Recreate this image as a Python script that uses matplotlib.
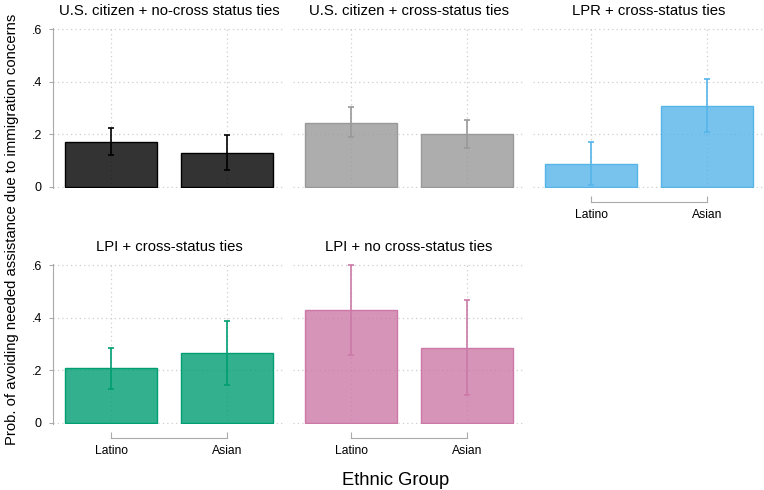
import matplotlib
matplotlib.use('Agg')
import numpy as np
from matplotlib import pyplot as plt
from matplotlib.colors import to_rgba

plt.rcParams['font.family'] = ['Liberation Sans', 'DejaVu Sans']

# DATA
groups = ['Latino', 'Asian']
titles = ['U.S. citizen + no-cross status ties',
          'U.S. citizen + cross-status ties',
          'LPR + cross-status ties',
          'LPI + cross-status ties',
          'LPI + no cross-status ties']
est = [[0.172, 0.130],
       [0.245, 0.200],
       [0.088, 0.309],
       [0.208, 0.266],
       [0.429, 0.284]]
ci_lo = [[0.121, 0.066],
         [0.192, 0.149],
         [0.009, 0.211],
         [0.131, 0.146],
         [0.257, 0.105]]
ci_hi = [[0.226, 0.197],
         [0.303, 0.253],
         [0.170, 0.411],
         [0.287, 0.389],
         [0.603, 0.467]]
colors = ['#000000', '#999999', '#56B4E9', '#009E73', '#CC79A7']
yticks = [0, 0.2, 0.4, 0.6]
ytick_labels = ['0', '.2', '.4', '.6']

W, H = 764, 490
AXIS_GREY = '#aaaaaa'

fig = plt.figure(figsize=(W / 100, H / 100), dpi=100)

# pixel layout of the panels
col_left = [53, 293, 533]
panel_w = 232
row_bottom = [188, 424]
panel_h = 160
# panels that show the x axis (bottom panel of each column)
show_x = [False, False, True, True, True]

x = np.arange(1, len(groups) + 1)

for i, title in enumerate(titles):
    row, col = i // 3, i % 3
    ax = fig.add_axes([col_left[col] / W, 1 - row_bottom[row] / H,
                       panel_w / W, panel_h / H])
    c = colors[i]
    e = np.array(est[i])
    lo = np.array(ci_lo[i])
    hi = np.array(ci_hi[i])
    ax.bar(x, e, width=0.79, facecolor=to_rgba(c, 0.8), edgecolor=c,
           linewidth=1.0, zorder=2)
    ax.errorbar(x, e, yerr=[e - lo, hi - e], fmt='none', ecolor=c,
                elinewidth=1.2, capsize=2.3, capthick=1.2, zorder=3)

    ax.set_xlim(0.5, 2.5)
    ax.set_ylim(-0.004, 0.605)
    ax.set_yticks(yticks)
    ax.set_yticklabels(ytick_labels)
    ax.set_xticks(x)
    ax.set_xticklabels(groups)
    ax.grid(True, linestyle=(0, (1, 2.5)), color='#cfcfcf', linewidth=0.9)
    ax.set_axisbelow(True)

    ax.spines['top'].set_visible(False)
    ax.spines['right'].set_visible(False)

    if col == 0:
        ax.spines['left'].set_color(AXIS_GREY)
        ax.tick_params(axis='y', length=3, color=AXIS_GREY, labelsize=9, pad=5)
    else:
        ax.spines['left'].set_visible(False)
        ax.tick_params(axis='y', left=False, labelleft=False)

    if show_x[i]:
        ax.spines['bottom'].set_position(('outward', 10))
        ax.spines['bottom'].set_bounds(1, 2)
        ax.spines['bottom'].set_color(AXIS_GREY)
        ax.tick_params(axis='x', direction='in', length=4, color=AXIS_GREY,
                       labelsize=8.7, pad=5)
    else:
        ax.spines['bottom'].set_visible(False)
        ax.tick_params(axis='x', bottom=False, labelbottom=False)

    ax.set_title(title, fontsize=10.7, pad=9.5)

fig.text(12 / W, 1 - 229 / H,
         'Prob. of avoiding needed assistance due to immigration concerns',
         rotation=90, ha='center', va='center', fontsize=10.7)
fig.text(396 / W, 1 - 480 / H, 'Ethnic Group', ha='center', va='center',
         fontsize=13.2)

fig.savefig('out.png', dpi=100)
